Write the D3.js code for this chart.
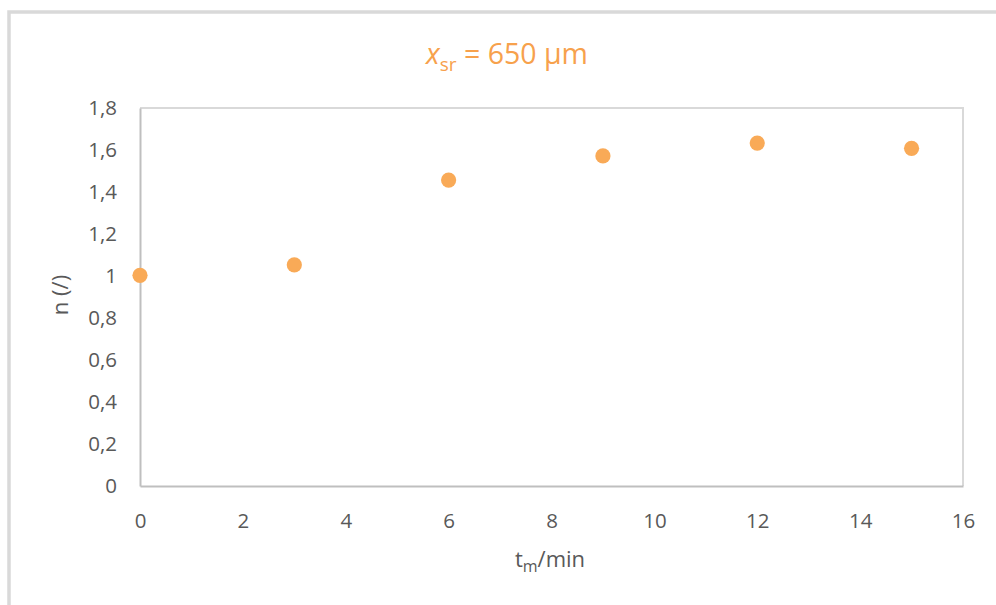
<!DOCTYPE html>
<html><head><meta charset="utf-8">
<script src="https://cdn.jsdelivr.net/npm/d3@7"></script>
<style>body{margin:0;background:#fff}svg{display:block}</style>
</head><body>
<script>
const timeMin = [0, 3, 6, 9, 12, 15];
const nValues = [1.003, 1.053, 1.457, 1.572, 1.633, 1.608];
const xTicks = [0, 2, 4, 6, 8, 10, 12, 14, 16];
const yTicks = [0, 0.2, 0.4, 0.6, 0.8, 1, 1.2, 1.4, 1.6, 1.8];

const W = 996, H = 605;
const svg = d3.select("body").append("svg").attr("width", W).attr("height", H);
const font = "'Open Sans', 'Noto Sans', sans-serif";
const orange = "#f9aa57";

// outer chart border
svg.append("rect").attr("x", 9).attr("y", 12).attr("width", 1000).attr("height", 620)
  .attr("fill", "none").attr("stroke", "#d9d9d9").attr("stroke-width", 3.5);

const x = d3.scaleLinear().domain([0, 16]).range([140, 963]);
const y = d3.scaleLinear().domain([0, 1.8]).range([486, 108]);

// plot area border (top/right)
svg.append("path")
  .attr("d", `M${x(0)},${y(1.8)}H${x(16)}V${y(0)}`)
  .attr("fill", "none").attr("stroke", "#d9d9d9").attr("stroke-width", 2);

const fmt = d => String(+d.toFixed(1)).replace(".", ",");

const ya = svg.append("g").attr("transform", `translate(${x(0)},0)`)
  .call(d3.axisLeft(y).tickValues(yTicks).tickSize(0).tickPadding(23).tickFormat(fmt));
const xa = svg.append("g").attr("transform", `translate(0,${y(0)})`)
  .call(d3.axisBottom(x).tickValues(xTicks).tickSize(0).tickPadding(27).tickFormat(d => d));
[ya, xa].forEach(g => {
  g.select(".domain").attr("stroke", "#bfbfbf").attr("stroke-width", 2);
  g.selectAll("text").attr("fill", "#595959").style("font-family", font).style("font-size", "20.5px");
});

svg.append("g").selectAll("circle").data(timeMin).join("circle")
  .attr("cx", (d, i) => x(d)).attr("cy", (d, i) => y(nValues[i]))
  .attr("r", 7.6).attr("fill", orange);

// title
const t = svg.append("text").attr("x", 507).attr("y", 64).attr("text-anchor", "middle")
  .attr("fill", "#f7a14c").style("font-family", font).style("font-size", "28.5px");
t.append("tspan").text("x").style("font-style", "italic");
t.append("tspan").text("sr").attr("font-size", "19px").attr("dy", 7);
t.append("tspan").text(" = 650 µm").attr("dy", -7);

// y axis title
svg.append("text").attr("transform", "translate(68,295) rotate(-90)").attr("text-anchor", "middle")
  .attr("fill", "#595959").style("font-family", font).style("font-size", "22px").text("n (/)");

// x axis title
const xt = svg.append("text").attr("x", 550).attr("y", 567).attr("text-anchor", "middle")
  .attr("fill", "#595959").style("font-family", font).style("font-size", "22px");
xt.append("tspan").text("t");
xt.append("tspan").text("m").attr("font-size", "16px").attr("dy", 5);
xt.append("tspan").text("/min").attr("dy", -5);
</script>
</body></html>
